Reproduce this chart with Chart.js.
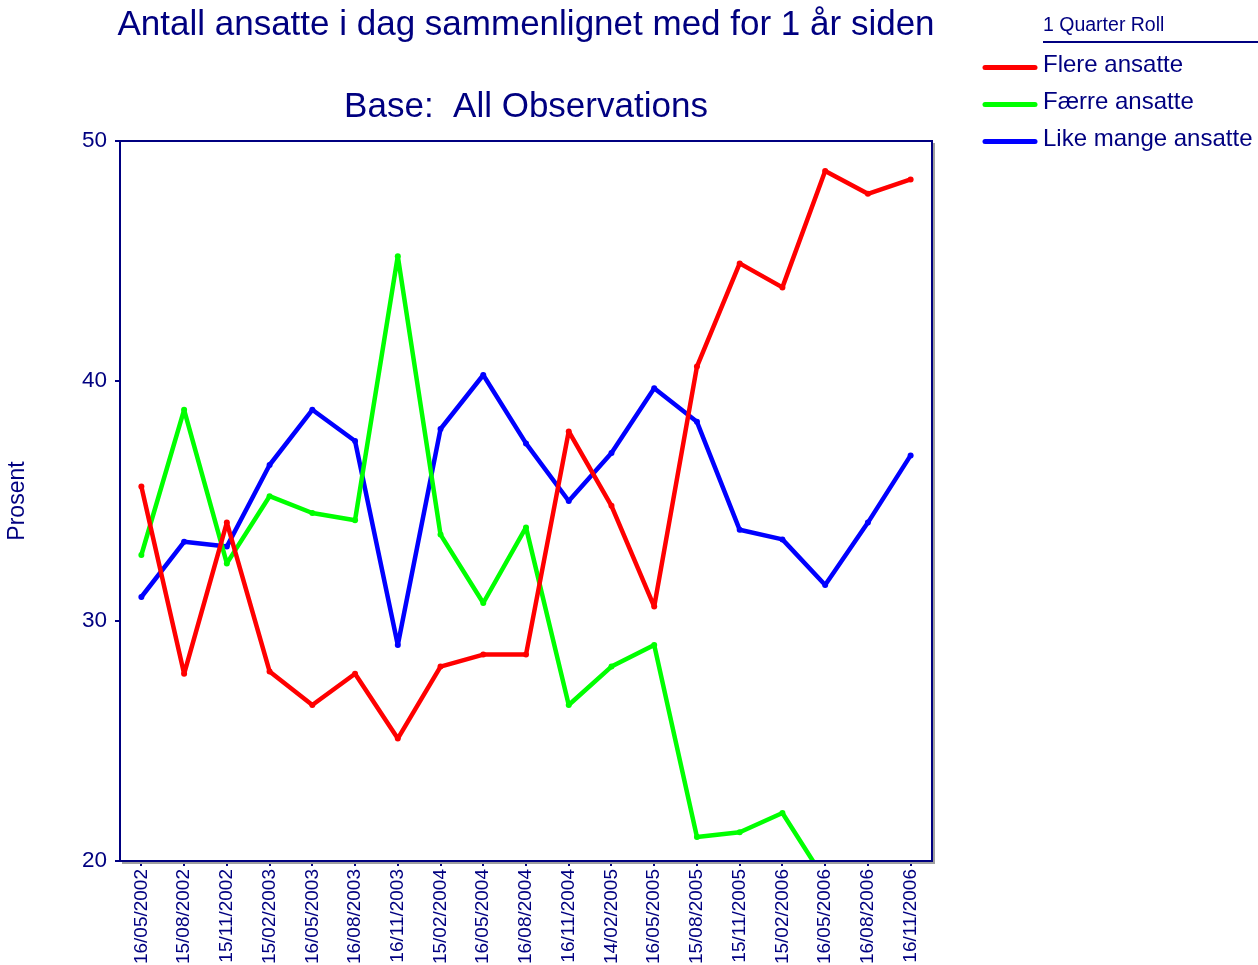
<!DOCTYPE html>
<html>
<head>
<meta charset="utf-8">
<title>Antall ansatte i dag sammenlignet med for 1 år siden</title>
<script src="https://cdn.jsdelivr.net/npm/chart.js@4.4.1/dist/chart.umd.min.js"></script>
<style>
  html, body { margin: 0; padding: 0; background: #ffffff; }
  #wrap { width: 1258px; height: 965px; position: relative; }
</style>
</head>
<body>
<div id="wrap"><canvas id="chart" width="1258" height="965"></canvas></div>
<script>
// ── Data ─────────────────────────────────────────────
const DATES = [
  '16/05/2002', '15/08/2002', '15/11/2002', '15/02/2003', '16/05/2003',
  '16/08/2003', '16/11/2003', '15/02/2004', '16/05/2004', '16/08/2004',
  '16/11/2004', '14/02/2005', '16/05/2005', '15/08/2005', '15/11/2005',
  '15/02/2006', '16/05/2006', '16/08/2006', '16/11/2006'
];
const FLERE = [35.6, 27.8, 34.1, 27.9, 26.5, 27.8, 25.1, 28.1, 28.6, 28.6,
  37.9, 34.8, 30.6, 40.6, 44.9, 43.9, 48.75, 47.8, 48.4];
// last three values fall below the axis minimum (clipped in the original)
const FAERRE = [32.75, 38.8, 32.4, 35.2, 34.5, 34.2, 45.2, 33.6, 30.75, 33.9,
  26.5, 28.1, 29.0, 21.0, 21.2, 22.0, 19.2, 18.6, 18.9];
const LIKE = [31.0, 33.3, 33.1, 36.5, 38.8, 37.5, 29.0, 38.0, 40.25, 37.4,
  35.0, 37.0, 39.7, 38.3, 33.8, 33.4, 31.5, 34.1, 36.9];
const Y_TICKS = [20, 30, 40, 50];

const TITLE = 'Antall ansatte i dag sammenlignet med for 1 år siden';
const SUBTITLE = 'Base:  All Observations';
const LEGEND_TITLE = '1 Quarter Roll';
const Y_LABEL = 'Prosent';

const NAVY = '#000080';
const FONT = '"Liberation Sans", Arial, sans-serif';

function series(label, data, color) {
  return {
    label, data,
    borderColor: color,
    backgroundColor: color,
    borderWidth: 4.5,
    borderJoinStyle: 'round',
    borderCapStyle: 'round',
    pointRadius: 3,
    pointBorderWidth: 0,
    pointBackgroundColor: color,
    tension: 0,
    fill: false,
  };
}

// ── Titles, frame and legend drawn on the canvas ─────
const decorPlugin = {
  id: 'decor',
  afterDraw(chart) {
    const ctx = chart.ctx;
    const a = chart.chartArea;
    ctx.save();

    // frame with a light shadow
    ctx.strokeStyle = '#a0a0a0';
    ctx.lineWidth = 2;
    ctx.beginPath();
    ctx.moveTo(a.right + 2, a.top + 2);
    ctx.lineTo(a.right + 2, a.bottom + 2);
    ctx.lineTo(a.left + 2, a.bottom + 2);
    ctx.stroke();
    ctx.strokeStyle = NAVY;
    ctx.strokeRect(a.left, a.top, a.right - a.left, a.bottom - a.top);

    // titles
    ctx.fillStyle = NAVY;
    ctx.textAlign = 'center';
    ctx.textBaseline = 'alphabetic';
    ctx.font = '35px ' + FONT;
    const cx = (a.left + a.right) / 2;
    ctx.fillText(TITLE, cx, 35);
    ctx.fillText(SUBTITLE, cx, 117);

    // legend
    ctx.textAlign = 'left';
    ctx.font = '19.5px ' + FONT;
    ctx.fillText(LEGEND_TITLE, 1043, 31);
    ctx.lineWidth = 2;
    ctx.beginPath();
    ctx.moveTo(1043, 42);
    ctx.lineTo(1258, 42);
    ctx.stroke();

    ctx.font = '24px ' + FONT;
    ctx.lineCap = 'round';
    chart.data.datasets.forEach((ds, i) => {
      const y = 67.5 + i * 37;
      ctx.strokeStyle = ds.borderColor;
      ctx.lineWidth = 5;
      ctx.beginPath();
      ctx.moveTo(985, y);
      ctx.lineTo(1035, y);
      ctx.stroke();
      ctx.fillStyle = NAVY;
      ctx.fillText(ds.label, 1043, y + 4);
    });
    ctx.restore();
  }
};

new Chart(document.getElementById('chart'), {
  type: 'line',
  data: {
    labels: DATES,
    datasets: [
      series('Flere ansatte', FLERE, '#ff0000'),
      series('Færre ansatte', FAERRE, '#00ff00'),
      series('Like mange ansatte', LIKE, '#0000ff'),
    ],
  },
  options: {
    responsive: false,
    animation: false,
    layout: { padding: { left: 0, top: 141, right: 326, bottom: 0 } },
    plugins: {
      legend: { display: false },
      title: { display: false },
      tooltip: { enabled: false },
    },
    scales: {
      x: {
        offset: true,
        grid: { drawOnChartArea: false, drawTicks: true, tickLength: 5, color: NAVY, lineWidth: 2 },
        border: { display: true, color: NAVY, width: 2 },
        ticks: {
          color: NAVY,
          font: { family: FONT, size: 19 },
          minRotation: 90,
          maxRotation: 90,
          autoSkip: false,
          padding: 3,
        },
        afterFit(scale) { scale.height = 104; },
      },
      y: {
        min: 20,
        max: 50,
        afterBuildTicks(scale) { scale.ticks = Y_TICKS.map(v => ({ value: v })); },
        grid: { drawOnChartArea: false, drawTicks: true, tickLength: 5, color: NAVY, lineWidth: 2 },
        border: { display: true, color: NAVY, width: 2 },
        ticks: {
          color: NAVY,
          font: { family: FONT, size: 22.5 },
          padding: 8,
        },
        title: {
          display: true,
          text: Y_LABEL,
          color: NAVY,
          font: { family: FONT, size: 23 },
          padding: { top: 4, bottom: 0 },
        },
        afterFit(scale) { scale.width = 120; },
      },
    },
  },
  plugins: [decorPlugin],
});
</script>
</body>
</html>
